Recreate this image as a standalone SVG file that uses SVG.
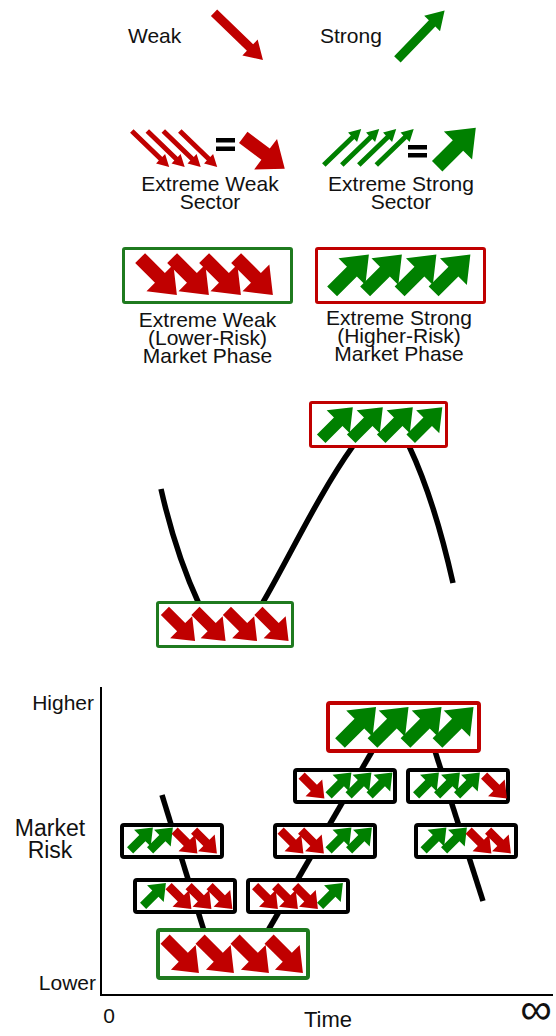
<svg xmlns="http://www.w3.org/2000/svg" xmlns:xlink="http://www.w3.org/1999/xlink" width="556" height="1036" viewBox="0 0 556 1036">
<style>
text{font-family:"Liberation Sans",Arial,sans-serif;fill:#111;font-size:21px}
.c{text-anchor:middle}
.e{text-anchor:end}
.r{fill:#C00000}
.g{fill:#008000}
.bx{fill:#fff;stroke:#000;stroke-width:4}
.bxr{fill:#fff;stroke:#C00000;stroke-width:3}
.bxg{fill:#fff;stroke:#1f7a1f;stroke-width:3}
.ln{fill:none;stroke:#000;stroke-width:5.5}
.ax{fill:none;stroke:#000;stroke-width:2}
</style>
<defs>
<path id="fat" d="M-26,-7H2V-19L26,0L2,19V7H-26Z"/>
<path id="thin" d="M-26,-2.5H14V-6.5L26,0L14,6.5V2.5H-26Z"/>
<path id="big" d="M-34,-4.5H16V-11L34,0L16,11V4.5H-34Z"/>
</defs>

<!-- legend -->
<g id="legend-weak">
<text x="128" y="43">Weak</text>
<use xlink:href="#big" class="r" transform="translate(238.5,36.4) rotate(44)"/>
</g>
<g id="legend-strong">
<text x="320" y="43">Strong</text>
<use xlink:href="#big" class="g" transform="translate(421,35) rotate(-46)"/>
</g>

<g id="extreme-weak-sector">
<use xlink:href="#thin" class="r" transform="translate(150.5,149) rotate(44)"/>
<use xlink:href="#thin" class="r" transform="translate(166,149) rotate(44)"/>
<use xlink:href="#thin" class="r" transform="translate(182,149) rotate(44)"/>
<use xlink:href="#thin" class="r" transform="translate(198.5,149) rotate(44)"/>
<rect x="216" y="138" width="19" height="4.5" fill="#000"/>
<rect x="216" y="146.5" width="19" height="4.5" fill="#000"/>
<use xlink:href="#fat" class="r" transform="translate(264,153) rotate(37)"/>
<text class="c" x="210" y="191">Extreme Weak</text>
<text class="c" x="210" y="209">Sector</text>
</g>
<g id="extreme-strong-sector">
<use xlink:href="#thin" class="g" transform="translate(342.5,147) rotate(-44)"/>
<use xlink:href="#thin" class="g" transform="translate(360.5,147) rotate(-44)"/>
<use xlink:href="#thin" class="g" transform="translate(377.5,147) rotate(-44)"/>
<use xlink:href="#thin" class="g" transform="translate(395,147) rotate(-44)"/>
<rect x="408" y="145" width="19" height="4.5" fill="#000"/>
<rect x="408" y="153" width="19" height="4.5" fill="#000"/>
<use xlink:href="#fat" class="g" transform="translate(456.5,147) rotate(-45) scale(1.05)"/>
<text class="c" x="401" y="191">Extreme Strong</text>
<text class="c" x="401" y="209">Sector</text>
</g>

<g id="extreme-weak-phase">
<rect class="bxg" x="123.5" y="248.5" width="168" height="54" rx="1.5"/>
<use xlink:href="#fat" class="r" transform="translate(158.5,276.5) rotate(45)"/>
<use xlink:href="#fat" class="r" transform="translate(190.5,276.5) rotate(45)"/>
<use xlink:href="#fat" class="r" transform="translate(222.5,276.5) rotate(45)"/>
<use xlink:href="#fat" class="r" transform="translate(254.5,276.5) rotate(45)"/>
<text class="c" x="207.5" y="327">Extreme Weak</text>
<text class="c" x="207.5" y="345">(Lower-Risk)</text>
<text class="c" x="207.5" y="363">Market Phase</text>
</g>
<g id="extreme-strong-phase">
<rect class="bxr" x="316.5" y="248.5" width="168" height="54" rx="1.5"/>
<use xlink:href="#fat" class="g" transform="translate(350.5,273) rotate(-45)"/>
<use xlink:href="#fat" class="g" transform="translate(383.5,273) rotate(-45)"/>
<use xlink:href="#fat" class="g" transform="translate(418,273) rotate(-45)"/>
<use xlink:href="#fat" class="g" transform="translate(452,273) rotate(-45)"/>
<text class="c" x="399" y="325">Extreme Strong</text>
<text class="c" x="399" y="343">(Higher-Risk)</text>
<text class="c" x="399" y="361">Market Phase</text>
</g>

<!-- connectors -->
<g id="connectors">
<path class="ln" d="M161,489 C168,520 181,565 199,604"/>
<path class="ln" d="M262,604 C288,560 318,495 353,446"/>
<path class="ln" d="M409,446 C425,480 440,525 453,583"/>
<path class="ln" d="M162,795 L205,934"/>
<path class="ln" d="M266,934 L374,748"/>
<path class="ln" d="M434,748 L483,901"/>
</g>

<!-- middle diagram -->
<g id="mid-high">
<rect class="bxr" x="310.5" y="402.5" width="136" height="44" rx="1.5"/>
<use xlink:href="#fat" class="g" transform="translate(337,423) rotate(-45) scale(0.86)"/>
<use xlink:href="#fat" class="g" transform="translate(367,423) rotate(-45) scale(0.86)"/>
<use xlink:href="#fat" class="g" transform="translate(397,423) rotate(-45) scale(0.86)"/>
<use xlink:href="#fat" class="g" transform="translate(426.5,423) rotate(-45) scale(0.86)"/>
</g>
<g id="mid-low">
<rect class="bxg" x="157.5" y="602.5" width="135" height="44" rx="1.5"/>
<use xlink:href="#fat" class="r" transform="translate(180,626) rotate(45) scale(0.82)"/>
<use xlink:href="#fat" class="r" transform="translate(210.5,626) rotate(45) scale(0.82)"/>
<use xlink:href="#fat" class="r" transform="translate(242,626) rotate(45) scale(0.82)"/>
<use xlink:href="#fat" class="r" transform="translate(273.5,626) rotate(45) scale(0.82)"/>
</g>

<!-- axes -->
<g id="axes">
<path class="ax" d="M101,687 V995 H553"/>
<text class="e" x="94" y="710">Higher</text>
<text class="c" x="50" y="836" style="font-size:23px">Market</text>
<text class="c" x="50" y="858" style="font-size:23px">Risk</text>
<text class="e" x="96" y="990">Lower</text>
<text class="c" x="109" y="1023">0</text>
<text class="c" x="328" y="1027" style="font-size:22px">Time</text>
<text class="c" x="536" y="1024" style="font-size:44px">∞</text>
</g>

<!-- bottom chart -->
<g id="b-top">
<rect x="328" y="703" width="151" height="48" rx="2" style="fill:#fff;stroke:#C00000;stroke-width:4"/>
<use xlink:href="#fat" class="g" transform="translate(358,725) rotate(-45) scale(0.98)"/>
<use xlink:href="#fat" class="g" transform="translate(390.5,725) rotate(-45) scale(0.98)"/>
<use xlink:href="#fat" class="g" transform="translate(423.5,725) rotate(-45) scale(0.98)"/>
<use xlink:href="#fat" class="g" transform="translate(455.5,725) rotate(-45) scale(0.98)"/>
</g>
<g id="b-r2-left">
<rect class="bx" x="295" y="770" width="100" height="32" rx="2"/>
<use xlink:href="#fat" class="r" transform="translate(313,787) rotate(45) scale(0.62)"/>
<use xlink:href="#fat" class="g" transform="translate(340,784) rotate(-45) scale(0.62)"/>
<use xlink:href="#fat" class="g" transform="translate(360,784) rotate(-45) scale(0.62)"/>
<use xlink:href="#fat" class="g" transform="translate(381,784) rotate(-45) scale(0.62)"/>
</g>
<g id="b-r2-right">
<rect class="bx" x="408" y="770" width="100" height="32" rx="2"/>
<use xlink:href="#fat" class="g" transform="translate(427.5,784) rotate(-45) scale(0.62)"/>
<use xlink:href="#fat" class="g" transform="translate(448.5,784) rotate(-45) scale(0.62)"/>
<use xlink:href="#fat" class="g" transform="translate(468.5,784) rotate(-45) scale(0.62)"/>
<use xlink:href="#fat" class="r" transform="translate(495.5,787) rotate(45) scale(0.62)"/>
</g>
<g id="b-r3-left">
<rect class="bx" x="122" y="825" width="100" height="32" rx="2"/>
<use xlink:href="#fat" class="g" transform="translate(141.5,839) rotate(-45) scale(0.62)"/>
<use xlink:href="#fat" class="g" transform="translate(161.5,839) rotate(-45) scale(0.62)"/>
<use xlink:href="#fat" class="r" transform="translate(186,842) rotate(45) scale(0.62)"/>
<use xlink:href="#fat" class="r" transform="translate(205.5,842) rotate(45) scale(0.62)"/>
</g>
<g id="b-r3-mid">
<rect class="bx" x="275" y="825" width="100" height="32" rx="2"/>
<use xlink:href="#fat" class="r" transform="translate(292,842) rotate(45) scale(0.62)"/>
<use xlink:href="#fat" class="r" transform="translate(312.5,842) rotate(45) scale(0.62)"/>
<use xlink:href="#fat" class="g" transform="translate(340,839) rotate(-45) scale(0.62)"/>
<use xlink:href="#fat" class="g" transform="translate(360.5,839) rotate(-45) scale(0.62)"/>
</g>
<g id="b-r3-right">
<rect class="bx" x="416" y="825" width="100" height="32" rx="2"/>
<use xlink:href="#fat" class="g" transform="translate(435,839) rotate(-45) scale(0.62)"/>
<use xlink:href="#fat" class="g" transform="translate(455.5,839) rotate(-45) scale(0.62)"/>
<use xlink:href="#fat" class="r" transform="translate(480,842) rotate(45) scale(0.62)"/>
<use xlink:href="#fat" class="r" transform="translate(499.5,842) rotate(45) scale(0.62)"/>
</g>
<g id="b-r4-left">
<rect class="bx" x="135" y="880" width="100" height="32" rx="2"/>
<use xlink:href="#fat" class="g" transform="translate(154.5,894.5) rotate(-45) scale(0.62)"/>
<use xlink:href="#fat" class="r" transform="translate(180,897.5) rotate(45) scale(0.62)"/>
<use xlink:href="#fat" class="r" transform="translate(200,897.5) rotate(45) scale(0.62)"/>
<use xlink:href="#fat" class="r" transform="translate(221,897.5) rotate(45) scale(0.62)"/>
</g>
<g id="b-r4-right">
<rect class="bx" x="248" y="880" width="100" height="32" rx="2"/>
<use xlink:href="#fat" class="r" transform="translate(266.5,897.5) rotate(45) scale(0.62)"/>
<use xlink:href="#fat" class="r" transform="translate(286.5,897.5) rotate(45) scale(0.62)"/>
<use xlink:href="#fat" class="r" transform="translate(306.5,897.5) rotate(45) scale(0.62)"/>
<use xlink:href="#fat" class="g" transform="translate(331.5,894.5) rotate(-45) scale(0.62)"/>
</g>
<g id="b-bottom">
<rect x="158" y="930" width="150" height="48" rx="2" style="fill:#fff;stroke:#1f7a1f;stroke-width:4"/>
<use xlink:href="#fat" class="r" transform="translate(182,956) rotate(45) scale(0.92)"/>
<use xlink:href="#fat" class="r" transform="translate(217,956) rotate(45) scale(0.92)"/>
<use xlink:href="#fat" class="r" transform="translate(252,956) rotate(45) scale(0.92)"/>
<use xlink:href="#fat" class="r" transform="translate(286,956) rotate(45) scale(0.92)"/>
</g>
</svg>
